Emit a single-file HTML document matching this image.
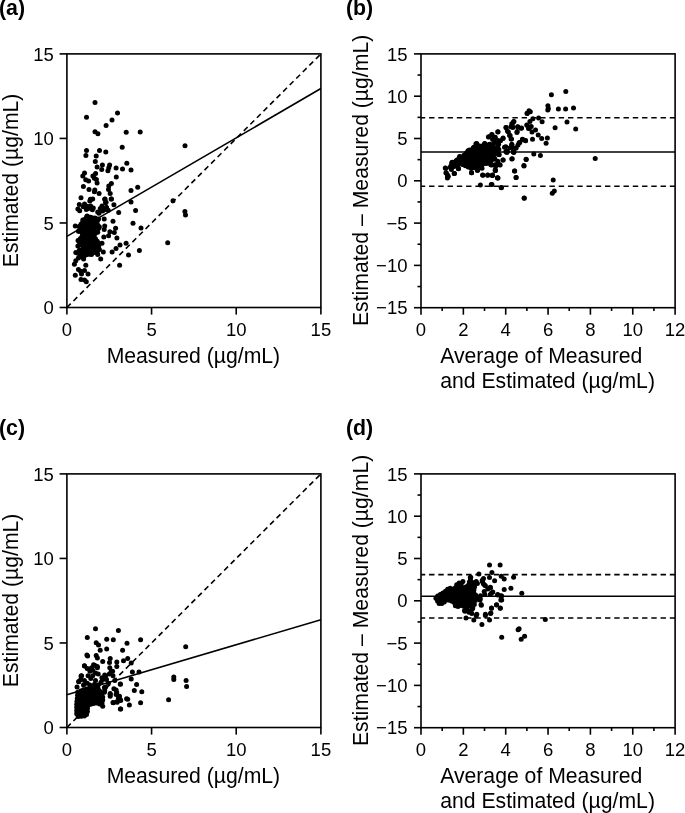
<!DOCTYPE html>
<html><head><meta charset="utf-8"><style>
html,body{margin:0;padding:0;background:#fff;}
body{width:685px;height:813px;overflow:hidden;}
svg{display:block;will-change:transform;}
text{font-family:"Liberation Sans",sans-serif;fill:#000;stroke:none;}
line,rect{stroke:#000;}
circle,polygon{stroke:none;fill:#000;}
</style></head><body>
<svg width="685" height="813" viewBox="0 0 685 813">
<g fill="#000">
<circle cx="95.0" cy="102.5" r="2.5"/>
<circle cx="86.5" cy="117.2" r="2.5"/>
<circle cx="117.5" cy="112.9" r="2.5"/>
<circle cx="112.0" cy="120.0" r="2.5"/>
<circle cx="106.1" cy="125.6" r="2.5"/>
<circle cx="95.0" cy="131.7" r="2.5"/>
<circle cx="97.9" cy="133.8" r="2.5"/>
<circle cx="126.2" cy="132.3" r="2.5"/>
<circle cx="140.2" cy="132.0" r="2.5"/>
<circle cx="122.2" cy="147.2" r="2.5"/>
<circle cx="185.0" cy="145.8" r="2.5"/>
<circle cx="173.0" cy="200.8" r="2.5"/>
<circle cx="86.5" cy="150.6" r="2.5"/>
<circle cx="85.9" cy="155.5" r="2.5"/>
<circle cx="99.5" cy="150.6" r="2.5"/>
<circle cx="105.8" cy="152.0" r="2.5"/>
<circle cx="96.2" cy="156.1" r="2.5"/>
<circle cx="95.3" cy="161.4" r="2.5"/>
<circle cx="97.1" cy="167.0" r="2.5"/>
<circle cx="102.4" cy="165.1" r="2.5"/>
<circle cx="101.7" cy="169.5" r="2.5"/>
<circle cx="109.6" cy="165.1" r="2.5"/>
<circle cx="108.8" cy="167.8" r="2.5"/>
<circle cx="107.9" cy="170.7" r="2.5"/>
<circle cx="116.1" cy="168.1" r="2.5"/>
<circle cx="122.5" cy="168.9" r="2.5"/>
<circle cx="126.8" cy="163.3" r="2.5"/>
<circle cx="131.0" cy="170.1" r="2.5"/>
<circle cx="84.5" cy="173.0" r="2.5"/>
<circle cx="82.8" cy="175.9" r="2.5"/>
<circle cx="95.6" cy="173.6" r="2.5"/>
<circle cx="92.9" cy="175.9" r="2.5"/>
<circle cx="94.4" cy="178.3" r="2.5"/>
<circle cx="96.4" cy="179.5" r="2.5"/>
<circle cx="85.7" cy="179.8" r="2.5"/>
<circle cx="88.6" cy="181.0" r="2.5"/>
<circle cx="97.1" cy="183.0" r="2.5"/>
<circle cx="116.3" cy="176.9" r="2.5"/>
<circle cx="111.4" cy="183.5" r="2.5"/>
<circle cx="108.8" cy="185.9" r="2.5"/>
<circle cx="108.5" cy="189.4" r="2.5"/>
<circle cx="83.4" cy="186.5" r="2.5"/>
<circle cx="89.0" cy="189.4" r="2.5"/>
<circle cx="94.8" cy="190.0" r="2.5"/>
<circle cx="94.4" cy="191.7" r="2.5"/>
<circle cx="99.1" cy="193.5" r="2.5"/>
<circle cx="110.2" cy="193.5" r="2.5"/>
<circle cx="81.0" cy="197.8" r="2.5"/>
<circle cx="90.4" cy="199.3" r="2.5"/>
<circle cx="92.7" cy="199.0" r="2.5"/>
<circle cx="89.8" cy="201.1" r="2.5"/>
<circle cx="105.0" cy="199.0" r="2.5"/>
<circle cx="111.4" cy="199.0" r="2.5"/>
<circle cx="106.1" cy="202.2" r="2.5"/>
<circle cx="131.0" cy="190.5" r="2.5"/>
<circle cx="137.7" cy="187.3" r="2.5"/>
<circle cx="131.0" cy="202.0" r="2.5"/>
<circle cx="90.6" cy="199.8" r="2.5"/>
<circle cx="104.7" cy="199.3" r="2.5"/>
<circle cx="111.2" cy="198.9" r="2.5"/>
<circle cx="79.3" cy="204.6" r="2.5"/>
<circle cx="84.5" cy="204.1" r="2.5"/>
<circle cx="77.9" cy="208.9" r="2.5"/>
<circle cx="79.7" cy="210.7" r="2.5"/>
<circle cx="83.2" cy="206.8" r="2.5"/>
<circle cx="87.1" cy="206.3" r="2.5"/>
<circle cx="88.5" cy="208.5" r="2.5"/>
<circle cx="90.6" cy="205.9" r="2.5"/>
<circle cx="93.3" cy="208.1" r="2.5"/>
<circle cx="92.4" cy="209.8" r="2.5"/>
<circle cx="86.3" cy="209.4" r="2.5"/>
<circle cx="102.0" cy="205.9" r="2.5"/>
<circle cx="105.5" cy="202.8" r="2.5"/>
<circle cx="106.4" cy="207.6" r="2.5"/>
<circle cx="108.2" cy="210.3" r="2.5"/>
<circle cx="100.3" cy="208.5" r="2.5"/>
<circle cx="97.7" cy="212.0" r="2.5"/>
<circle cx="99.0" cy="213.3" r="2.5"/>
<circle cx="113.9" cy="204.8" r="2.5"/>
<circle cx="118.7" cy="212.5" r="2.5"/>
<circle cx="87.1" cy="216.0" r="2.5"/>
<circle cx="90.6" cy="217.3" r="2.5"/>
<circle cx="95.0" cy="218.1" r="2.5"/>
<circle cx="98.5" cy="219.0" r="2.5"/>
<circle cx="96.8" cy="221.2" r="2.5"/>
<circle cx="104.2" cy="219.0" r="2.5"/>
<circle cx="113.0" cy="221.2" r="2.5"/>
<circle cx="82.8" cy="219.9" r="2.5"/>
<circle cx="81.0" cy="224.3" r="2.5"/>
<circle cx="75.3" cy="226.0" r="2.5"/>
<circle cx="85.4" cy="222.5" r="2.5"/>
<circle cx="88.9" cy="224.3" r="2.5"/>
<circle cx="93.3" cy="223.4" r="2.5"/>
<circle cx="91.5" cy="227.8" r="2.5"/>
<circle cx="80.1" cy="227.8" r="2.5"/>
<circle cx="78.4" cy="231.3" r="2.5"/>
<circle cx="82.8" cy="228.7" r="2.5"/>
<circle cx="88.0" cy="228.7" r="2.5"/>
<circle cx="84.5" cy="231.3" r="2.5"/>
<circle cx="89.8" cy="231.3" r="2.5"/>
<circle cx="93.3" cy="230.4" r="2.5"/>
<circle cx="96.8" cy="226.9" r="2.5"/>
<circle cx="99.4" cy="226.9" r="2.5"/>
<circle cx="97.7" cy="232.2" r="2.5"/>
<circle cx="104.7" cy="226.0" r="2.5"/>
<circle cx="104.2" cy="229.5" r="2.5"/>
<circle cx="115.6" cy="228.2" r="2.5"/>
<circle cx="114.3" cy="232.6" r="2.5"/>
<circle cx="109.9" cy="231.7" r="2.5"/>
<circle cx="108.6" cy="235.7" r="2.5"/>
<circle cx="116.9" cy="237.9" r="2.5"/>
<circle cx="103.8" cy="237.0" r="2.5"/>
<circle cx="77.9" cy="245.9" r="2.5"/>
<circle cx="81.0" cy="244.1" r="2.5"/>
<circle cx="75.8" cy="252.5" r="2.5"/>
<circle cx="79.3" cy="250.3" r="2.5"/>
<circle cx="83.6" cy="249.4" r="2.5"/>
<circle cx="87.1" cy="247.6" r="2.5"/>
<circle cx="89.8" cy="250.3" r="2.5"/>
<circle cx="92.4" cy="249.4" r="2.5"/>
<circle cx="88.0" cy="252.9" r="2.5"/>
<circle cx="91.5" cy="254.6" r="2.5"/>
<circle cx="84.5" cy="255.5" r="2.5"/>
<circle cx="80.1" cy="255.5" r="2.5"/>
<circle cx="78.4" cy="258.1" r="2.5"/>
<circle cx="83.6" cy="259.0" r="2.5"/>
<circle cx="75.8" cy="260.8" r="2.5"/>
<circle cx="96.8" cy="251.1" r="2.5"/>
<circle cx="97.7" cy="254.6" r="2.5"/>
<circle cx="95.9" cy="247.6" r="2.5"/>
<circle cx="99.4" cy="249.4" r="2.5"/>
<circle cx="102.0" cy="243.3" r="2.5"/>
<circle cx="103.3" cy="252.0" r="2.5"/>
<circle cx="100.7" cy="259.0" r="2.5"/>
<circle cx="112.1" cy="252.0" r="2.5"/>
<circle cx="116.0" cy="248.5" r="2.5"/>
<circle cx="120.0" cy="245.0" r="2.5"/>
<circle cx="126.1" cy="243.3" r="2.5"/>
<circle cx="119.6" cy="265.2" r="2.5"/>
<circle cx="74.4" cy="264.3" r="2.5"/>
<circle cx="85.8" cy="265.2" r="2.5"/>
<circle cx="78.4" cy="269.5" r="2.5"/>
<circle cx="80.6" cy="271.3" r="2.5"/>
<circle cx="84.5" cy="270.4" r="2.5"/>
<circle cx="81.5" cy="273.9" r="2.5"/>
<circle cx="75.3" cy="275.2" r="2.5"/>
<circle cx="88.0" cy="273.9" r="2.5"/>
<circle cx="81.0" cy="279.6" r="2.5"/>
<circle cx="84.5" cy="280.0" r="2.5"/>
<circle cx="86.3" cy="281.8" r="2.5"/>
<circle cx="135.6" cy="210.5" r="2.5"/>
<circle cx="133.0" cy="223.2" r="2.5"/>
<circle cx="141.0" cy="228.0" r="2.5"/>
<circle cx="167.7" cy="242.7" r="2.5"/>
<circle cx="139.4" cy="250.5" r="2.5"/>
<circle cx="128.5" cy="255.1" r="2.5"/>
<circle cx="184.9" cy="211.5" r="2.5"/>
<circle cx="185.5" cy="215.0" r="2.5"/>
<circle cx="104.3" cy="209.7" r="2.5"/>
<circle cx="106.5" cy="207.5" r="2.5"/>
<circle cx="102.5" cy="211.0" r="2.5"/>
<polygon points="78.0,240.4 79.2,241.9 79.4,242.1 79.5,242.3 79.6,242.5 79.7,242.7 79.7,243.0 79.8,243.2 79.8,243.4 79.8,243.7 79.8,243.9 79.6,244.6 81.5,245.2 81.8,245.3 82.0,245.4 82.2,245.5 82.4,245.7 82.6,245.8 82.7,246.0 82.9,246.2 83.0,246.4 83.1,246.7 83.2,246.9 83.3,247.1 83.3,247.4 83.3,247.6 83.3,247.9 83.2,248.1 83.2,248.4 83.1,248.6 83.0,248.8 82.9,249.0 82.7,249.2 82.5,249.4 82.4,249.6 79.5,251.9 79.2,252.1 77.5,253.1 79.6,254.2 79.9,254.3 80.1,254.4 80.2,254.6 80.4,254.8 80.6,255.0 80.7,255.2 80.8,255.4 80.9,255.6 80.9,255.9 81.0,256.1 81.0,256.4 81.0,256.6 81.0,256.8 81.1,256.8 81.3,256.8 81.6,256.8 81.8,256.8 82.0,256.9 82.3,257.0 82.9,257.2 83.2,256.6 83.3,256.4 83.4,256.2 83.5,255.9 83.7,255.8 83.9,255.6 84.1,255.4 84.3,255.3 84.6,255.2 84.8,255.1 85.0,255.0 90.1,254.1 91.3,252.9 91.5,252.7 91.7,252.6 91.9,252.4 92.1,252.3 92.3,252.2 92.6,252.2 92.8,252.1 93.1,252.1 93.3,252.1 93.6,252.1 93.8,252.2 94.1,252.3 95.8,253.0 97.1,252.2 98.2,250.4 98.2,247.6 98.2,247.3 98.3,247.1 98.3,246.8 98.4,246.6 98.5,246.4 99.9,244.0 98.7,243.1 98.5,242.9 98.3,242.8 98.2,242.6 94.5,237.5 94.3,237.3 94.2,237.0 94.1,236.8 94.1,236.5 94.0,236.3 94.0,236.0 94.0,235.8 94.0,235.5 94.1,235.3 94.2,235.0 94.3,234.8 94.4,234.6 95.9,232.4 96.0,232.3 98.0,229.6 98.9,227.2 97.2,223.9 97.1,223.6 97.0,223.4 96.9,223.1 96.9,222.9 96.9,222.6 96.9,222.4 97.0,222.1 97.0,221.9 97.9,219.3 97.7,219.1 88.8,217.1 86.5,217.1 83.2,221.0 81.8,224.3 81.7,224.6 81.6,224.8 81.5,224.9 81.3,225.1 81.1,225.3 81.0,225.4 80.8,225.6 78.8,226.7 79.6,227.3 79.8,227.5 80.0,227.7 80.1,227.9 80.3,228.1 80.4,228.3 80.5,228.5 80.5,228.8 80.6,229.0 80.6,229.2 80.6,229.5 80.6,229.7 80.5,230.0 80.4,230.2 80.3,230.4 79.9,231.3 81.6,232.4 81.8,232.5 82.0,232.6 82.2,232.8 82.3,233.0 82.4,233.2 82.6,233.4 82.7,233.7 82.7,233.9 82.8,234.1 82.8,234.4 82.8,234.6 82.8,234.9 82.7,235.1 82.6,235.4 82.6,235.6 82.4,235.8 82.3,236.0 80.1,238.9 79.9,239.1 79.8,239.2 79.6,239.4 79.4,239.5 78.0,240.4"/>
<circle cx="78.0" cy="240.4" r="2.5"/>
<circle cx="79.7" cy="242.9" r="2.5"/>
<circle cx="80.9" cy="245.0" r="2.5"/>
<circle cx="83.2" cy="246.8" r="2.5"/>
<circle cx="82.3" cy="249.6" r="2.5"/>
<circle cx="80.0" cy="251.5" r="2.5"/>
<circle cx="77.5" cy="253.1" r="2.5"/>
<circle cx="80.2" cy="254.6" r="2.5"/>
<circle cx="81.5" cy="256.8" r="2.5"/>
<circle cx="83.7" cy="255.8" r="2.5"/>
<circle cx="86.5" cy="254.8" r="2.5"/>
<circle cx="89.5" cy="254.2" r="2.5"/>
<circle cx="91.9" cy="252.4" r="2.5"/>
<circle cx="94.8" cy="252.6" r="2.5"/>
<circle cx="97.3" cy="251.8" r="2.5"/>
<circle cx="98.2" cy="249.0" r="2.5"/>
<circle cx="98.7" cy="246.1" r="2.5"/>
<circle cx="99.3" cy="243.6" r="2.5"/>
<circle cx="97.3" cy="241.3" r="2.5"/>
<circle cx="95.5" cy="238.8" r="2.5"/>
<circle cx="94.0" cy="236.2" r="2.5"/>
<circle cx="95.2" cy="233.5" r="2.5"/>
<circle cx="97.0" cy="231.0" r="2.5"/>
<circle cx="98.5" cy="228.4" r="2.5"/>
<circle cx="98.1" cy="225.6" r="2.5"/>
<circle cx="96.9" cy="222.8" r="2.5"/>
<circle cx="97.7" cy="219.9" r="2.5"/>
<circle cx="95.6" cy="218.6" r="2.5"/>
<circle cx="92.6" cy="218.0" r="2.5"/>
<circle cx="89.6" cy="217.3" r="2.5"/>
<circle cx="86.6" cy="217.1" r="2.5"/>
<circle cx="84.6" cy="219.4" r="2.5"/>
<circle cx="82.8" cy="221.9" r="2.5"/>
<circle cx="81.6" cy="224.7" r="2.5"/>
<circle cx="79.2" cy="226.5" r="2.5"/>
<circle cx="80.5" cy="228.6" r="2.5"/>
<circle cx="80.0" cy="231.4" r="2.5"/>
<circle cx="82.5" cy="233.2" r="2.5"/>
<circle cx="82.2" cy="236.1" r="2.5"/>
<circle cx="80.4" cy="238.5" r="2.5"/>
<line x1="66.90" y1="307.50" x2="320.90" y2="53.90" stroke-width="1.6" stroke-dasharray="5.4 3.86" stroke-dashoffset="0"/>
<line x1="66.90" y1="236.32" x2="320.90" y2="88.56" stroke-width="1.6"/>
<rect x="66.9" y="53.9" width="254.00" height="253.60" fill="none" stroke-width="1.6"/>
<line x1="59.60" y1="307.50" x2="66.90" y2="307.50" stroke-width="1.6"/>
<line x1="66.90" y1="307.50" x2="66.90" y2="314.60" stroke-width="1.6"/>
<text x="53.80" y="314.10" text-anchor="end" font-size="18.5">0</text>
<text x="66.90" y="335.60" text-anchor="middle" font-size="18.5">0</text>
<line x1="59.60" y1="222.97" x2="66.90" y2="222.97" stroke-width="1.6"/>
<line x1="151.57" y1="307.50" x2="151.57" y2="314.60" stroke-width="1.6"/>
<text x="53.80" y="229.57" text-anchor="end" font-size="18.5">5</text>
<text x="151.57" y="335.60" text-anchor="middle" font-size="18.5">5</text>
<line x1="59.60" y1="138.43" x2="66.90" y2="138.43" stroke-width="1.6"/>
<line x1="236.23" y1="307.50" x2="236.23" y2="314.60" stroke-width="1.6"/>
<text x="53.80" y="145.03" text-anchor="end" font-size="18.5">10</text>
<text x="236.23" y="335.60" text-anchor="middle" font-size="18.5">10</text>
<line x1="59.60" y1="53.90" x2="66.90" y2="53.90" stroke-width="1.6"/>
<line x1="320.90" y1="307.50" x2="320.90" y2="314.60" stroke-width="1.6"/>
<text x="53.80" y="60.50" text-anchor="end" font-size="18.5">15</text>
<text x="320.90" y="335.60" text-anchor="middle" font-size="18.5">15</text>
<text x="193.40" y="362.90" text-anchor="middle" font-size="21.2">Measured (µg/mL)</text>
<text x="18.40" y="180.40" text-anchor="middle" font-size="21.2" transform="rotate(-90 18.40 180.40)">Estimated (µg/mL)</text>
<circle cx="527.1" cy="113.3" r="2.5"/>
<circle cx="529.0" cy="110.7" r="2.5"/>
<circle cx="513.9" cy="121.6" r="2.5"/>
<circle cx="511.8" cy="123.8" r="2.5"/>
<circle cx="505.9" cy="127.4" r="2.5"/>
<circle cx="511.0" cy="126.7" r="2.5"/>
<circle cx="517.6" cy="126.7" r="2.5"/>
<circle cx="521.2" cy="128.2" r="2.5"/>
<circle cx="516.9" cy="132.6" r="2.5"/>
<circle cx="527.1" cy="125.3" r="2.5"/>
<circle cx="529.3" cy="128.2" r="2.5"/>
<circle cx="497.9" cy="131.8" r="2.5"/>
<circle cx="507.4" cy="131.1" r="2.5"/>
<circle cx="509.6" cy="135.5" r="2.5"/>
<circle cx="511.0" cy="139.1" r="2.5"/>
<circle cx="488.4" cy="136.9" r="2.5"/>
<circle cx="492.0" cy="134.7" r="2.5"/>
<circle cx="494.2" cy="137.7" r="2.5"/>
<circle cx="497.9" cy="140.6" r="2.5"/>
<circle cx="503.0" cy="138.4" r="2.5"/>
<circle cx="504.5" cy="147.2" r="2.5"/>
<circle cx="511.8" cy="144.2" r="2.5"/>
<circle cx="511.8" cy="147.2" r="2.5"/>
<circle cx="516.1" cy="147.9" r="2.5"/>
<circle cx="519.1" cy="142.8" r="2.5"/>
<circle cx="522.7" cy="139.6" r="2.5"/>
<circle cx="525.6" cy="140.6" r="2.5"/>
<circle cx="476.7" cy="143.5" r="2.5"/>
<circle cx="484.7" cy="143.5" r="2.5"/>
<circle cx="489.9" cy="144.2" r="2.5"/>
<circle cx="494.2" cy="142.8" r="2.5"/>
<circle cx="498.6" cy="144.2" r="2.5"/>
<circle cx="473.8" cy="147.2" r="2.5"/>
<circle cx="481.1" cy="146.4" r="2.5"/>
<circle cx="488.4" cy="147.9" r="2.5"/>
<circle cx="495.7" cy="147.9" r="2.5"/>
<circle cx="469.4" cy="150.1" r="2.5"/>
<circle cx="505.9" cy="151.5" r="2.5"/>
<circle cx="513.2" cy="151.5" r="2.5"/>
<circle cx="467.2" cy="153.0" r="2.5"/>
<circle cx="473.8" cy="152.3" r="2.5"/>
<circle cx="445.3" cy="168.1" r="2.5"/>
<circle cx="446.1" cy="172.7" r="2.5"/>
<circle cx="448.2" cy="176.4" r="2.5"/>
<circle cx="447.5" cy="174.9" r="2.5"/>
<circle cx="450.4" cy="167.6" r="2.5"/>
<circle cx="451.9" cy="162.5" r="2.5"/>
<circle cx="454.1" cy="173.5" r="2.5"/>
<circle cx="457.0" cy="161.1" r="2.5"/>
<circle cx="458.5" cy="168.4" r="2.5"/>
<circle cx="459.9" cy="156.7" r="2.5"/>
<circle cx="463.6" cy="159.6" r="2.5"/>
<circle cx="468.0" cy="151.6" r="2.5"/>
<circle cx="471.6" cy="172.7" r="2.5"/>
<circle cx="477.4" cy="170.5" r="2.5"/>
<circle cx="480.4" cy="185.1" r="2.5"/>
<circle cx="482.6" cy="174.9" r="2.5"/>
<circle cx="487.7" cy="174.9" r="2.5"/>
<circle cx="492.5" cy="174.9" r="2.5"/>
<circle cx="491.3" cy="184.4" r="2.5"/>
<circle cx="497.4" cy="177.8" r="2.5"/>
<circle cx="501.2" cy="187.6" r="2.5"/>
<circle cx="495.4" cy="170.5" r="2.5"/>
<circle cx="499.8" cy="164.7" r="2.5"/>
<circle cx="503.0" cy="160.0" r="2.5"/>
<circle cx="498.6" cy="154.5" r="2.5"/>
<circle cx="494.2" cy="158.9" r="2.5"/>
<circle cx="506.6" cy="152.3" r="2.5"/>
<circle cx="511.8" cy="158.9" r="2.5"/>
<circle cx="513.9" cy="152.3" r="2.5"/>
<circle cx="514.7" cy="171.0" r="2.5"/>
<circle cx="516.1" cy="177.4" r="2.5"/>
<circle cx="523.9" cy="165.4" r="2.5"/>
<circle cx="526.1" cy="159.3" r="2.5"/>
<circle cx="524.2" cy="198.3" r="2.5"/>
<circle cx="486.9" cy="163.2" r="2.5"/>
<circle cx="491.3" cy="164.7" r="2.5"/>
<circle cx="495.0" cy="164.7" r="2.5"/>
<circle cx="445.7" cy="168.3" r="2.5"/>
<circle cx="446.1" cy="173.1" r="2.5"/>
<circle cx="447.9" cy="176.2" r="2.5"/>
<circle cx="447.4" cy="177.9" r="2.5"/>
<circle cx="450.5" cy="166.5" r="2.5"/>
<circle cx="452.3" cy="162.2" r="2.5"/>
<circle cx="451.4" cy="169.6" r="2.5"/>
<circle cx="454.5" cy="173.5" r="2.5"/>
<circle cx="455.8" cy="161.3" r="2.5"/>
<circle cx="458.4" cy="168.7" r="2.5"/>
<circle cx="459.7" cy="156.5" r="2.5"/>
<circle cx="461.9" cy="159.5" r="2.5"/>
<circle cx="463.2" cy="163.9" r="2.5"/>
<circle cx="460.1" cy="163.0" r="2.5"/>
<circle cx="466.3" cy="155.1" r="2.5"/>
<circle cx="468.0" cy="150.8" r="2.5"/>
<circle cx="465.4" cy="160.4" r="2.5"/>
<circle cx="468.9" cy="158.6" r="2.5"/>
<circle cx="470.7" cy="154.3" r="2.5"/>
<circle cx="471.5" cy="161.3" r="2.5"/>
<circle cx="469.8" cy="165.7" r="2.5"/>
<circle cx="473.3" cy="148.1" r="2.5"/>
<circle cx="475.9" cy="143.8" r="2.5"/>
<circle cx="474.2" cy="152.5" r="2.5"/>
<circle cx="476.8" cy="156.9" r="2.5"/>
<circle cx="475.0" cy="163.0" r="2.5"/>
<circle cx="477.7" cy="170.0" r="2.5"/>
<circle cx="471.5" cy="172.7" r="2.5"/>
<circle cx="478.5" cy="150.8" r="2.5"/>
<circle cx="480.3" cy="146.4" r="2.5"/>
<circle cx="481.2" cy="154.3" r="2.5"/>
<circle cx="479.4" cy="161.3" r="2.5"/>
<circle cx="482.0" cy="164.8" r="2.5"/>
<circle cx="483.8" cy="159.5" r="2.5"/>
<circle cx="484.7" cy="143.8" r="2.5"/>
<circle cx="485.5" cy="149.9" r="2.5"/>
<circle cx="487.3" cy="153.4" r="2.5"/>
<circle cx="489.0" cy="144.6" r="2.5"/>
<circle cx="490.8" cy="151.6" r="2.5"/>
<circle cx="492.6" cy="156.0" r="2.5"/>
<circle cx="494.3" cy="158.6" r="2.5"/>
<circle cx="487.3" cy="163.0" r="2.5"/>
<circle cx="490.8" cy="164.8" r="2.5"/>
<circle cx="495.2" cy="170.0" r="2.5"/>
<circle cx="489.0" cy="136.8" r="2.5"/>
<circle cx="492.6" cy="139.4" r="2.5"/>
<circle cx="496.1" cy="142.0" r="2.5"/>
<circle cx="497.8" cy="147.3" r="2.5"/>
<circle cx="498.7" cy="154.3" r="2.5"/>
<circle cx="497.8" cy="161.3" r="2.5"/>
<circle cx="496.9" cy="164.8" r="2.5"/>
<circle cx="482.9" cy="175.3" r="2.5"/>
<circle cx="487.7" cy="175.3" r="2.5"/>
<circle cx="492.6" cy="175.3" r="2.5"/>
<circle cx="497.8" cy="177.9" r="2.5"/>
<circle cx="482.0" cy="168.3" r="2.5"/>
<circle cx="527.2" cy="113.5" r="2.5"/>
<circle cx="530.3" cy="111.8" r="2.5"/>
<circle cx="547.8" cy="110.0" r="2.5"/>
<circle cx="538.6" cy="117.9" r="2.5"/>
<circle cx="542.1" cy="121.8" r="2.5"/>
<circle cx="532.9" cy="118.8" r="2.5"/>
<circle cx="529.9" cy="121.4" r="2.5"/>
<circle cx="526.8" cy="124.9" r="2.5"/>
<circle cx="528.5" cy="128.4" r="2.5"/>
<circle cx="531.2" cy="126.6" r="2.5"/>
<circle cx="535.5" cy="130.1" r="2.5"/>
<circle cx="532.0" cy="131.9" r="2.5"/>
<circle cx="538.2" cy="135.0" r="2.5"/>
<circle cx="541.7" cy="138.5" r="2.5"/>
<circle cx="547.4" cy="138.0" r="2.5"/>
<circle cx="546.1" cy="143.3" r="2.5"/>
<circle cx="532.5" cy="139.3" r="2.5"/>
<circle cx="513.6" cy="121.8" r="2.5"/>
<circle cx="512.3" cy="124.9" r="2.5"/>
<circle cx="512.8" cy="127.5" r="2.5"/>
<circle cx="518.0" cy="127.1" r="2.5"/>
<circle cx="521.5" cy="128.0" r="2.5"/>
<circle cx="517.2" cy="131.5" r="2.5"/>
<circle cx="506.2" cy="127.5" r="2.5"/>
<circle cx="508.4" cy="131.9" r="2.5"/>
<circle cx="510.1" cy="135.4" r="2.5"/>
<circle cx="511.5" cy="138.9" r="2.5"/>
<circle cx="497.9" cy="131.9" r="2.5"/>
<circle cx="491.8" cy="134.5" r="2.5"/>
<circle cx="495.3" cy="137.2" r="2.5"/>
<circle cx="503.1" cy="138.0" r="2.5"/>
<circle cx="500.5" cy="140.7" r="2.5"/>
<circle cx="522.4" cy="139.3" r="2.5"/>
<circle cx="525.5" cy="140.7" r="2.5"/>
<circle cx="519.8" cy="142.4" r="2.5"/>
<circle cx="518.0" cy="145.0" r="2.5"/>
<circle cx="515.8" cy="148.1" r="2.5"/>
<circle cx="511.9" cy="145.0" r="2.5"/>
<circle cx="510.1" cy="147.7" r="2.5"/>
<circle cx="505.8" cy="146.8" r="2.5"/>
<circle cx="513.6" cy="152.0" r="2.5"/>
<circle cx="507.5" cy="151.2" r="2.5"/>
<circle cx="490.9" cy="145.0" r="2.5"/>
<circle cx="493.5" cy="146.8" r="2.5"/>
<circle cx="497.9" cy="143.3" r="2.5"/>
<circle cx="498.8" cy="149.4" r="2.5"/>
<circle cx="495.3" cy="151.2" r="2.5"/>
<circle cx="551.4" cy="94.7" r="2.5"/>
<circle cx="565.8" cy="91.4" r="2.5"/>
<circle cx="547.9" cy="105.8" r="2.5"/>
<circle cx="548.3" cy="108.5" r="2.5"/>
<circle cx="558.4" cy="108.9" r="2.5"/>
<circle cx="565.6" cy="108.9" r="2.5"/>
<circle cx="573.5" cy="108.0" r="2.5"/>
<circle cx="567.0" cy="122.0" r="2.5"/>
<circle cx="555.1" cy="127.7" r="2.5"/>
<circle cx="575.7" cy="129.0" r="2.5"/>
<circle cx="540.4" cy="155.5" r="2.5"/>
<circle cx="595.2" cy="158.4" r="2.5"/>
<circle cx="507.1" cy="152.2" r="2.5"/>
<circle cx="513.6" cy="152.2" r="2.5"/>
<circle cx="499.2" cy="154.8" r="2.5"/>
<circle cx="533.8" cy="153.9" r="2.5"/>
<circle cx="494.8" cy="158.8" r="2.5"/>
<circle cx="503.1" cy="160.1" r="2.5"/>
<circle cx="512.2" cy="158.8" r="2.5"/>
<circle cx="526.2" cy="159.5" r="2.5"/>
<circle cx="524.0" cy="165.9" r="2.5"/>
<circle cx="500.1" cy="165.1" r="2.5"/>
<circle cx="491.8" cy="164.9" r="2.5"/>
<circle cx="495.7" cy="166.6" r="2.5"/>
<circle cx="495.3" cy="170.6" r="2.5"/>
<circle cx="514.5" cy="171.0" r="2.5"/>
<circle cx="516.1" cy="177.6" r="2.5"/>
<circle cx="492.2" cy="175.4" r="2.5"/>
<circle cx="497.9" cy="178.0" r="2.5"/>
<circle cx="491.9" cy="184.6" r="2.5"/>
<circle cx="501.4" cy="187.8" r="2.5"/>
<circle cx="524.2" cy="198.0" r="2.5"/>
<circle cx="553.2" cy="179.9" r="2.5"/>
<circle cx="554.3" cy="191.1" r="2.5"/>
<circle cx="552.3" cy="193.2" r="2.5"/>
<polygon points="451.7,163.8 450.9,166.0 451.9,166.7 453.6,167.2 454.9,165.8 455.1,165.7 455.3,165.5 455.5,165.4 455.7,165.3 455.9,165.2 459.4,164.0 459.6,164.0 459.8,163.9 460.1,163.9 460.3,163.9 460.6,163.9 460.8,164.0 461.0,164.0 464.5,165.2 464.8,165.4 469.4,167.6 471.9,168.5 474.6,167.5 474.9,167.5 475.1,167.4 475.4,167.4 477.9,167.4 479.4,165.8 479.6,165.7 479.8,165.5 480.0,165.4 482.3,164.2 482.6,164.1 482.8,164.0 490.4,161.9 492.7,159.5 492.7,157.0 492.7,156.8 492.7,156.5 492.8,156.3 492.9,156.0 493.0,155.8 493.1,155.6 493.3,155.4 493.4,155.2 496.5,152.1 497.2,150.2 496.8,149.6 495.6,148.9 492.5,148.4 492.3,148.3 492.0,148.2 491.8,148.2 491.6,148.1 491.5,147.9 489.2,146.3 487.4,145.4 484.9,145.0 482.0,146.0 481.8,146.0 481.5,146.1 481.3,146.1 481.0,146.1 480.8,146.1 477.5,145.5 476.4,145.5 474.8,147.2 474.7,147.3 470.1,151.4 469.9,151.5 469.6,151.7 469.4,151.8 469.2,151.9 468.9,151.9 467.2,152.3 461.9,157.1 461.7,157.3 461.5,157.4 461.3,157.6 461.0,157.7 460.8,157.7 459.0,158.2 453.7,163.0 453.5,163.1 453.3,163.2 453.1,163.4 452.9,163.4 452.6,163.5 451.7,163.8"/>
<circle cx="451.7" cy="163.8" r="2.5"/>
<circle cx="451.5" cy="166.4" r="2.5"/>
<circle cx="454.2" cy="166.6" r="2.5"/>
<circle cx="456.7" cy="165.0" r="2.5"/>
<circle cx="459.6" cy="164.0" r="2.5"/>
<circle cx="462.6" cy="164.6" r="2.5"/>
<circle cx="465.4" cy="165.7" r="2.5"/>
<circle cx="468.2" cy="167.0" r="2.5"/>
<circle cx="471.0" cy="168.2" r="2.5"/>
<circle cx="473.9" cy="167.8" r="2.5"/>
<circle cx="476.9" cy="167.4" r="2.5"/>
<circle cx="479.4" cy="165.9" r="2.5"/>
<circle cx="482.0" cy="164.3" r="2.5"/>
<circle cx="484.9" cy="163.4" r="2.5"/>
<circle cx="487.9" cy="162.6" r="2.5"/>
<circle cx="490.7" cy="161.5" r="2.5"/>
<circle cx="492.7" cy="159.3" r="2.5"/>
<circle cx="492.8" cy="156.2" r="2.5"/>
<circle cx="494.8" cy="153.9" r="2.5"/>
<circle cx="496.7" cy="151.6" r="2.5"/>
<circle cx="496.0" cy="149.1" r="2.5"/>
<circle cx="493.1" cy="148.5" r="2.5"/>
<circle cx="490.4" cy="147.2" r="2.5"/>
<circle cx="487.7" cy="145.6" r="2.5"/>
<circle cx="484.8" cy="145.0" r="2.5"/>
<circle cx="481.8" cy="146.0" r="2.5"/>
<circle cx="478.8" cy="145.7" r="2.5"/>
<circle cx="476.0" cy="146.0" r="2.5"/>
<circle cx="473.7" cy="148.1" r="2.5"/>
<circle cx="471.4" cy="150.1" r="2.5"/>
<circle cx="469.0" cy="151.9" r="2.5"/>
<circle cx="466.3" cy="153.1" r="2.5"/>
<circle cx="464.0" cy="155.2" r="2.5"/>
<circle cx="461.7" cy="157.3" r="2.5"/>
<circle cx="458.9" cy="158.3" r="2.5"/>
<circle cx="456.6" cy="160.3" r="2.5"/>
<circle cx="454.3" cy="162.4" r="2.5"/>
<line x1="421.00" y1="152.04" x2="675.10" y2="152.04" stroke-width="1.6"/>
<line x1="421.00" y1="117.69" x2="675.10" y2="117.69" stroke-width="1.6" stroke-dasharray="5.4 3.86" stroke-dashoffset="1.2"/>
<line x1="421.00" y1="186.30" x2="675.10" y2="186.30" stroke-width="1.6" stroke-dasharray="5.4 3.86" stroke-dashoffset="1.2"/>
<rect x="421.0" y="53.9" width="254.10" height="253.80" fill="none" stroke-width="1.6"/>
<line x1="414.00" y1="307.70" x2="421.00" y2="307.70" stroke-width="1.6"/>
<text x="407.50" y="314.30" text-anchor="end" font-size="18.5">&#8722;15</text>
<line x1="414.00" y1="265.40" x2="421.00" y2="265.40" stroke-width="1.6"/>
<text x="407.50" y="272.00" text-anchor="end" font-size="18.5">&#8722;10</text>
<line x1="414.00" y1="223.10" x2="421.00" y2="223.10" stroke-width="1.6"/>
<text x="407.50" y="229.70" text-anchor="end" font-size="18.5">&#8722;5</text>
<line x1="414.00" y1="180.80" x2="421.00" y2="180.80" stroke-width="1.6"/>
<text x="407.50" y="187.40" text-anchor="end" font-size="18.5">0</text>
<line x1="414.00" y1="138.50" x2="421.00" y2="138.50" stroke-width="1.6"/>
<text x="407.50" y="145.10" text-anchor="end" font-size="18.5">5</text>
<line x1="414.00" y1="96.20" x2="421.00" y2="96.20" stroke-width="1.6"/>
<text x="407.50" y="102.80" text-anchor="end" font-size="18.5">10</text>
<line x1="414.00" y1="53.90" x2="421.00" y2="53.90" stroke-width="1.6"/>
<text x="407.50" y="60.50" text-anchor="end" font-size="18.5">15</text>
<line x1="417.50" y1="286.55" x2="421.00" y2="286.55" stroke-width="1.6"/>
<line x1="417.50" y1="244.25" x2="421.00" y2="244.25" stroke-width="1.6"/>
<line x1="417.50" y1="201.95" x2="421.00" y2="201.95" stroke-width="1.6"/>
<line x1="417.50" y1="159.65" x2="421.00" y2="159.65" stroke-width="1.6"/>
<line x1="417.50" y1="117.35" x2="421.00" y2="117.35" stroke-width="1.6"/>
<line x1="417.50" y1="75.05" x2="421.00" y2="75.05" stroke-width="1.6"/>
<line x1="421.00" y1="307.70" x2="421.00" y2="314.70" stroke-width="1.6"/>
<text x="421.00" y="335.70" text-anchor="middle" font-size="18.5">0</text>
<line x1="463.35" y1="307.70" x2="463.35" y2="314.70" stroke-width="1.6"/>
<text x="463.35" y="335.70" text-anchor="middle" font-size="18.5">2</text>
<line x1="505.70" y1="307.70" x2="505.70" y2="314.70" stroke-width="1.6"/>
<text x="505.70" y="335.70" text-anchor="middle" font-size="18.5">4</text>
<line x1="548.05" y1="307.70" x2="548.05" y2="314.70" stroke-width="1.6"/>
<text x="548.05" y="335.70" text-anchor="middle" font-size="18.5">6</text>
<line x1="590.40" y1="307.70" x2="590.40" y2="314.70" stroke-width="1.6"/>
<text x="590.40" y="335.70" text-anchor="middle" font-size="18.5">8</text>
<line x1="632.75" y1="307.70" x2="632.75" y2="314.70" stroke-width="1.6"/>
<text x="632.75" y="335.70" text-anchor="middle" font-size="18.5">10</text>
<line x1="675.10" y1="307.70" x2="675.10" y2="314.70" stroke-width="1.6"/>
<text x="675.10" y="335.70" text-anchor="middle" font-size="18.5">12</text>
<line x1="442.18" y1="307.70" x2="442.18" y2="311.00" stroke-width="1.6"/>
<line x1="484.52" y1="307.70" x2="484.52" y2="311.00" stroke-width="1.6"/>
<line x1="526.88" y1="307.70" x2="526.88" y2="311.00" stroke-width="1.6"/>
<line x1="569.23" y1="307.70" x2="569.23" y2="311.00" stroke-width="1.6"/>
<line x1="611.58" y1="307.70" x2="611.58" y2="311.00" stroke-width="1.6"/>
<line x1="653.92" y1="307.70" x2="653.92" y2="311.00" stroke-width="1.6"/>
<text x="440.20" y="363.00" text-anchor="start" font-size="21.2">Average of Measured</text>
<text x="440.20" y="388.00" text-anchor="start" font-size="21.2">and Estimated (µg/mL)</text>
<text x="368.30" y="180.40" text-anchor="middle" font-size="21.2" transform="rotate(-90 368.30 180.40)">Estimated &#8211; Measured (µg/mL)</text>
<circle cx="95.5" cy="628.7" r="2.5"/>
<circle cx="118.4" cy="630.4" r="2.5"/>
<circle cx="87.3" cy="637.4" r="2.5"/>
<circle cx="106.7" cy="639.2" r="2.5"/>
<circle cx="113.3" cy="639.7" r="2.5"/>
<circle cx="140.6" cy="639.7" r="2.5"/>
<circle cx="96.2" cy="642.7" r="2.5"/>
<circle cx="98.5" cy="645.1" r="2.5"/>
<circle cx="127.0" cy="643.2" r="2.5"/>
<circle cx="106.7" cy="649.1" r="2.5"/>
<circle cx="100.2" cy="650.2" r="2.5"/>
<circle cx="122.6" cy="650.2" r="2.5"/>
<circle cx="185.7" cy="646.7" r="2.5"/>
<circle cx="86.9" cy="654.9" r="2.5"/>
<circle cx="87.6" cy="656.1" r="2.5"/>
<circle cx="96.2" cy="655.6" r="2.5"/>
<circle cx="97.4" cy="657.9" r="2.5"/>
<circle cx="110.2" cy="658.4" r="2.5"/>
<circle cx="109.5" cy="662.6" r="2.5"/>
<circle cx="102.7" cy="661.4" r="2.5"/>
<circle cx="116.8" cy="661.9" r="2.5"/>
<circle cx="123.5" cy="660.7" r="2.5"/>
<circle cx="127.7" cy="658.4" r="2.5"/>
<circle cx="131.2" cy="663.1" r="2.5"/>
<circle cx="84.5" cy="665.9" r="2.5"/>
<circle cx="91.5" cy="667.7" r="2.5"/>
<circle cx="95.0" cy="665.4" r="2.5"/>
<circle cx="97.4" cy="667.7" r="2.5"/>
<circle cx="109.8" cy="667.7" r="2.5"/>
<circle cx="116.8" cy="666.6" r="2.5"/>
<circle cx="112.6" cy="671.2" r="2.5"/>
<circle cx="132.4" cy="671.9" r="2.5"/>
<circle cx="139.0" cy="671.9" r="2.5"/>
<circle cx="173.8" cy="677.1" r="2.5"/>
<circle cx="173.8" cy="679.4" r="2.5"/>
<circle cx="186.1" cy="680.6" r="2.5"/>
<circle cx="186.6" cy="686.4" r="2.5"/>
<circle cx="81.0" cy="675.9" r="2.5"/>
<circle cx="78.7" cy="681.8" r="2.5"/>
<circle cx="105.6" cy="675.9" r="2.5"/>
<circle cx="120.3" cy="684.1" r="2.5"/>
<circle cx="131.2" cy="679.0" r="2.5"/>
<circle cx="136.6" cy="684.6" r="2.5"/>
<circle cx="134.3" cy="690.6" r="2.5"/>
<circle cx="141.8" cy="691.8" r="2.5"/>
<circle cx="116.1" cy="689.9" r="2.5"/>
<circle cx="104.4" cy="687.6" r="2.5"/>
<circle cx="104.4" cy="692.3" r="2.5"/>
<circle cx="110.2" cy="694.6" r="2.5"/>
<circle cx="116.1" cy="694.6" r="2.5"/>
<circle cx="118.4" cy="698.1" r="2.5"/>
<circle cx="127.7" cy="699.3" r="2.5"/>
<circle cx="120.7" cy="700.4" r="2.5"/>
<circle cx="113.3" cy="702.8" r="2.5"/>
<circle cx="117.2" cy="702.3" r="2.5"/>
<circle cx="140.6" cy="702.8" r="2.5"/>
<circle cx="129.4" cy="705.1" r="2.5"/>
<circle cx="120.7" cy="709.1" r="2.5"/>
<circle cx="168.6" cy="699.7" r="2.5"/>
<circle cx="102.7" cy="706.3" r="2.5"/>
<circle cx="100.9" cy="702.8" r="2.5"/>
<circle cx="126.6" cy="698.8" r="2.5"/>
<circle cx="84.4" cy="665.7" r="2.5"/>
<circle cx="87.2" cy="668.5" r="2.5"/>
<circle cx="93.6" cy="664.8" r="2.5"/>
<circle cx="97.3" cy="666.6" r="2.5"/>
<circle cx="89.9" cy="671.2" r="2.5"/>
<circle cx="92.7" cy="670.3" r="2.5"/>
<circle cx="95.5" cy="673.1" r="2.5"/>
<circle cx="98.2" cy="674.0" r="2.5"/>
<circle cx="92.7" cy="675.8" r="2.5"/>
<circle cx="90.8" cy="678.6" r="2.5"/>
<circle cx="95.5" cy="680.5" r="2.5"/>
<circle cx="88.1" cy="675.8" r="2.5"/>
<circle cx="81.6" cy="675.8" r="2.5"/>
<circle cx="78.8" cy="681.4" r="2.5"/>
<circle cx="80.7" cy="679.5" r="2.5"/>
<circle cx="84.4" cy="680.5" r="2.5"/>
<circle cx="87.2" cy="683.2" r="2.5"/>
<circle cx="83.5" cy="685.1" r="2.5"/>
<circle cx="77.0" cy="686.9" r="2.5"/>
<circle cx="89.9" cy="685.1" r="2.5"/>
<circle cx="94.5" cy="684.2" r="2.5"/>
<circle cx="98.2" cy="685.1" r="2.5"/>
<circle cx="104.7" cy="674.9" r="2.5"/>
<circle cx="101.9" cy="677.7" r="2.5"/>
<circle cx="109.3" cy="674.0" r="2.5"/>
<circle cx="111.2" cy="671.2" r="2.5"/>
<circle cx="113.0" cy="675.8" r="2.5"/>
<circle cx="106.5" cy="679.5" r="2.5"/>
<circle cx="102.8" cy="679.5" r="2.5"/>
<circle cx="101.0" cy="682.3" r="2.5"/>
<circle cx="108.4" cy="683.2" r="2.5"/>
<circle cx="105.6" cy="686.9" r="2.5"/>
<circle cx="104.7" cy="690.6" r="2.5"/>
<circle cx="114.8" cy="680.5" r="2.5"/>
<circle cx="120.4" cy="684.2" r="2.5"/>
<circle cx="113.9" cy="688.8" r="2.5"/>
<circle cx="110.2" cy="693.4" r="2.5"/>
<circle cx="110.2" cy="696.2" r="2.5"/>
<circle cx="116.7" cy="692.5" r="2.5"/>
<circle cx="119.5" cy="696.2" r="2.5"/>
<circle cx="120.4" cy="699.8" r="2.5"/>
<circle cx="113.0" cy="702.6" r="2.5"/>
<circle cx="116.7" cy="701.7" r="2.5"/>
<circle cx="120.4" cy="709.1" r="2.5"/>
<polygon points="77.7,692.2 77.7,694.3 77.7,694.6 76.7,703.6 76.7,713.9 78.3,716.6 85.7,715.9 87.4,713.0 87.4,707.2 87.4,707.0 87.4,706.7 87.5,706.5 87.6,706.3 87.7,706.0 87.8,705.8 88.0,705.6 88.1,705.5 88.3,705.3 88.5,705.1 88.7,705.0 88.9,704.9 89.1,704.8 94.7,703.0 95.0,703.0 95.2,702.9 95.5,702.9 95.7,702.9 95.9,702.9 96.2,703.0 100.9,704.3 102.3,702.5 103.0,698.2 101.5,693.6 98.6,689.1 92.6,687.7 84.3,689.3 77.7,692.2"/>
<circle cx="77.7" cy="692.2" r="2.5"/>
<circle cx="77.6" cy="695.3" r="2.5"/>
<circle cx="77.3" cy="698.4" r="2.5"/>
<circle cx="76.9" cy="701.4" r="2.5"/>
<circle cx="76.7" cy="704.5" r="2.5"/>
<circle cx="76.7" cy="707.6" r="2.5"/>
<circle cx="76.7" cy="710.7" r="2.5"/>
<circle cx="76.7" cy="713.8" r="2.5"/>
<circle cx="78.2" cy="716.4" r="2.5"/>
<circle cx="81.2" cy="716.3" r="2.5"/>
<circle cx="84.3" cy="716.0" r="2.5"/>
<circle cx="86.5" cy="714.5" r="2.5"/>
<circle cx="87.4" cy="711.6" r="2.5"/>
<circle cx="87.4" cy="708.6" r="2.5"/>
<circle cx="88.0" cy="705.6" r="2.5"/>
<circle cx="90.7" cy="704.3" r="2.5"/>
<circle cx="93.6" cy="703.4" r="2.5"/>
<circle cx="96.6" cy="703.1" r="2.5"/>
<circle cx="99.6" cy="704.0" r="2.5"/>
<circle cx="102.0" cy="703.0" r="2.5"/>
<circle cx="102.7" cy="700.0" r="2.5"/>
<circle cx="102.7" cy="697.0" r="2.5"/>
<circle cx="101.7" cy="694.1" r="2.5"/>
<circle cx="100.1" cy="691.5" r="2.5"/>
<circle cx="98.3" cy="689.0" r="2.5"/>
<circle cx="95.3" cy="688.3" r="2.5"/>
<circle cx="92.3" cy="687.7" r="2.5"/>
<circle cx="89.3" cy="688.3" r="2.5"/>
<circle cx="86.3" cy="688.9" r="2.5"/>
<circle cx="83.3" cy="689.7" r="2.5"/>
<circle cx="80.5" cy="691.0" r="2.5"/>
<line x1="66.90" y1="727.50" x2="320.90" y2="473.90" stroke-width="1.6" stroke-dasharray="5.4 3.86" stroke-dashoffset="0"/>
<line x1="66.90" y1="694.70" x2="320.90" y2="619.80" stroke-width="1.6"/>
<rect x="66.9" y="473.9" width="254.00" height="253.60" fill="none" stroke-width="1.6"/>
<line x1="59.60" y1="727.50" x2="66.90" y2="727.50" stroke-width="1.6"/>
<line x1="66.90" y1="727.50" x2="66.90" y2="734.60" stroke-width="1.6"/>
<text x="53.80" y="734.10" text-anchor="end" font-size="18.5">0</text>
<text x="66.90" y="755.60" text-anchor="middle" font-size="18.5">0</text>
<line x1="59.60" y1="642.97" x2="66.90" y2="642.97" stroke-width="1.6"/>
<line x1="151.57" y1="727.50" x2="151.57" y2="734.60" stroke-width="1.6"/>
<text x="53.80" y="649.57" text-anchor="end" font-size="18.5">5</text>
<text x="151.57" y="755.60" text-anchor="middle" font-size="18.5">5</text>
<line x1="59.60" y1="558.43" x2="66.90" y2="558.43" stroke-width="1.6"/>
<line x1="236.23" y1="727.50" x2="236.23" y2="734.60" stroke-width="1.6"/>
<text x="53.80" y="565.03" text-anchor="end" font-size="18.5">10</text>
<text x="236.23" y="755.60" text-anchor="middle" font-size="18.5">10</text>
<line x1="59.60" y1="473.90" x2="66.90" y2="473.90" stroke-width="1.6"/>
<line x1="320.90" y1="727.50" x2="320.90" y2="734.60" stroke-width="1.6"/>
<text x="53.80" y="480.50" text-anchor="end" font-size="18.5">15</text>
<text x="320.90" y="755.60" text-anchor="middle" font-size="18.5">15</text>
<text x="193.40" y="782.90" text-anchor="middle" font-size="21.2">Measured (µg/mL)</text>
<text x="18.40" y="600.40" text-anchor="middle" font-size="21.2" transform="rotate(-90 18.40 600.40)">Estimated (µg/mL)</text>
<circle cx="489.5" cy="564.9" r="2.5"/>
<circle cx="500.1" cy="564.9" r="2.5"/>
<circle cx="478.9" cy="573.9" r="2.5"/>
<circle cx="491.9" cy="572.5" r="2.5"/>
<circle cx="489.5" cy="577.6" r="2.5"/>
<circle cx="501.3" cy="576.2" r="2.5"/>
<circle cx="504.2" cy="579.0" r="2.5"/>
<circle cx="513.6" cy="577.2" r="2.5"/>
<circle cx="494.6" cy="580.7" r="2.5"/>
<circle cx="482.3" cy="580.2" r="2.5"/>
<circle cx="483.4" cy="583.7" r="2.5"/>
<circle cx="470.7" cy="577.2" r="2.5"/>
<circle cx="510.9" cy="588.2" r="2.5"/>
<circle cx="504.2" cy="589.4" r="2.5"/>
<circle cx="490.5" cy="587.8" r="2.5"/>
<circle cx="485.4" cy="585.8" r="2.5"/>
<circle cx="521.8" cy="593.3" r="2.5"/>
<circle cx="491.5" cy="592.9" r="2.5"/>
<circle cx="497.7" cy="595.0" r="2.5"/>
<circle cx="501.7" cy="596.0" r="2.5"/>
<circle cx="501.7" cy="600.1" r="2.5"/>
<circle cx="480.3" cy="599.0" r="2.5"/>
<circle cx="481.3" cy="605.2" r="2.5"/>
<circle cx="496.6" cy="604.8" r="2.5"/>
<circle cx="491.5" cy="608.2" r="2.5"/>
<circle cx="500.3" cy="608.2" r="2.5"/>
<circle cx="490.5" cy="613.4" r="2.5"/>
<circle cx="485.4" cy="615.4" r="2.5"/>
<circle cx="489.5" cy="619.9" r="2.5"/>
<circle cx="476.2" cy="615.8" r="2.5"/>
<circle cx="473.8" cy="620.1" r="2.5"/>
<circle cx="466.0" cy="618.1" r="2.5"/>
<circle cx="465.0" cy="611.3" r="2.5"/>
<circle cx="469.0" cy="612.3" r="2.5"/>
<circle cx="472.1" cy="609.3" r="2.5"/>
<circle cx="481.9" cy="624.6" r="2.5"/>
<circle cx="545.3" cy="619.5" r="2.5"/>
<circle cx="518.1" cy="629.7" r="2.5"/>
<circle cx="519.1" cy="628.7" r="2.5"/>
<circle cx="501.7" cy="637.3" r="2.5"/>
<circle cx="521.2" cy="639.3" r="2.5"/>
<circle cx="524.6" cy="636.2" r="2.5"/>
<circle cx="470.3" cy="577.6" r="2.5"/>
<circle cx="483.5" cy="578.5" r="2.5"/>
<circle cx="482.3" cy="581.6" r="2.5"/>
<circle cx="484.5" cy="585.0" r="2.5"/>
<circle cx="477.4" cy="583.5" r="2.5"/>
<circle cx="476.2" cy="581.6" r="2.5"/>
<circle cx="462.9" cy="581.6" r="2.5"/>
<circle cx="490.3" cy="587.2" r="2.5"/>
<circle cx="487.8" cy="589.0" r="2.5"/>
<circle cx="492.8" cy="592.1" r="2.5"/>
<circle cx="490.3" cy="594.5" r="2.5"/>
<circle cx="497.7" cy="594.5" r="2.5"/>
<circle cx="500.8" cy="595.8" r="2.5"/>
<circle cx="484.2" cy="591.5" r="2.5"/>
<circle cx="484.8" cy="594.5" r="2.5"/>
<circle cx="480.5" cy="595.8" r="2.5"/>
<circle cx="479.8" cy="600.1" r="2.5"/>
<circle cx="481.1" cy="604.4" r="2.5"/>
<circle cx="496.5" cy="605.0" r="2.5"/>
<circle cx="500.2" cy="608.1" r="2.5"/>
<circle cx="491.5" cy="608.1" r="2.5"/>
<circle cx="490.9" cy="613.0" r="2.5"/>
<circle cx="485.4" cy="614.2" r="2.5"/>
<circle cx="500.8" cy="600.1" r="2.5"/>
<circle cx="474.3" cy="604.4" r="2.5"/>
<circle cx="472.8" cy="608.1" r="2.5"/>
<circle cx="464.5" cy="610.5" r="2.5"/>
<circle cx="468.2" cy="610.5" r="2.5"/>
<circle cx="476.8" cy="614.2" r="2.5"/>
<circle cx="471.8" cy="613.6" r="2.5"/>
<polygon points="435.9,598.3 437.4,600.8 437.5,600.8 438.9,603.3 439.9,604.1 441.1,603.8 441.2,603.8 443.1,603.4 443.8,602.5 444.0,602.2 445.7,600.4 445.9,600.2 446.1,600.1 446.3,599.9 446.5,599.8 446.7,599.7 446.9,599.7 447.2,599.6 447.4,599.6 447.7,599.6 447.9,599.6 448.2,599.7 448.4,599.8 448.6,599.9 450.8,600.9 452.8,601.5 453.1,601.6 453.3,601.7 453.5,601.8 453.7,601.9 453.9,602.1 454.1,602.2 454.2,602.4 454.4,602.6 454.5,602.9 454.6,603.1 455.6,606.0 456.1,606.6 457.9,606.6 459.1,605.9 459.3,605.8 459.5,605.7 459.8,605.6 460.0,605.5 460.2,605.5 460.5,605.5 460.7,605.5 460.9,605.6 463.2,606.1 463.4,606.1 463.7,606.2 463.9,606.3 465.6,607.2 466.7,607.2 468.6,605.9 468.8,605.8 469.1,605.7 469.3,605.6 469.5,605.5 469.8,605.5 470.0,605.5 472.2,605.5 475.3,600.7 476.8,597.9 475.8,595.4 474.2,593.8 474.1,593.6 473.9,593.4 473.8,593.2 473.7,593.0 473.6,592.7 473.5,592.5 473.5,592.2 473.5,592.0 473.5,591.8 473.5,591.5 474.3,587.5 474.9,584.4 474.2,583.0 472.2,582.4 472.0,582.3 471.8,582.2 471.6,582.0 471.4,581.9 471.2,581.7 471.0,581.5 470.9,581.3 470.8,581.1 470.1,579.7 469.8,580.6 468.6,584.7 468.5,584.9 468.4,585.2 468.3,585.4 468.1,585.6 468.0,585.8 467.8,585.9 467.6,586.1 467.4,586.2 467.2,586.3 464.3,587.5 464.0,587.6 463.8,587.7 463.5,587.7 463.3,587.7 463.1,587.7 462.8,587.7 462.6,587.6 462.3,587.5 462.1,587.4 461.9,587.3 461.7,587.1 461.5,587.0 461.4,586.8 461.2,586.6 461.1,586.4 461.0,586.2 460.9,585.9 460.8,585.7 460.8,585.4 460.8,585.2 460.8,585.0 460.8,584.7 460.9,584.5 461.0,584.2 461.6,582.8 459.7,583.0 457.7,583.6 456.7,584.7 455.7,587.3 455.7,587.5 455.5,587.7 455.4,587.9 455.2,588.1 455.1,588.3 454.9,588.4 454.7,588.5 454.5,588.7 454.2,588.8 454.0,588.8 453.8,588.9 453.5,588.9 453.3,588.9 453.0,588.9 452.8,588.8 450.4,588.2 450.4,588.2 449.2,587.9 448.0,588.8 445.8,591.1 445.6,591.2 445.4,591.4 442.8,593.1 442.6,593.2 440.5,594.4 440.5,594.4 438.3,595.6 437.1,596.3 435.9,598.3"/>
<circle cx="435.9" cy="598.3" r="2.5"/>
<circle cx="437.5" cy="600.9" r="2.5"/>
<circle cx="439.1" cy="603.5" r="2.5"/>
<circle cx="441.8" cy="603.6" r="2.5"/>
<circle cx="444.2" cy="602.0" r="2.5"/>
<circle cx="446.3" cy="599.9" r="2.5"/>
<circle cx="449.2" cy="600.2" r="2.5"/>
<circle cx="452.0" cy="601.3" r="2.5"/>
<circle cx="454.4" cy="602.8" r="2.5"/>
<circle cx="455.4" cy="605.7" r="2.5"/>
<circle cx="458.0" cy="606.6" r="2.5"/>
<circle cx="460.7" cy="605.5" r="2.5"/>
<circle cx="463.7" cy="606.2" r="2.5"/>
<circle cx="466.4" cy="607.2" r="2.5"/>
<circle cx="469.0" cy="605.7" r="2.5"/>
<circle cx="472.0" cy="605.5" r="2.5"/>
<circle cx="473.8" cy="603.1" r="2.5"/>
<circle cx="475.4" cy="600.6" r="2.5"/>
<circle cx="476.8" cy="597.9" r="2.5"/>
<circle cx="475.6" cy="595.1" r="2.5"/>
<circle cx="473.7" cy="592.9" r="2.5"/>
<circle cx="473.9" cy="589.9" r="2.5"/>
<circle cx="474.5" cy="586.9" r="2.5"/>
<circle cx="474.7" cy="584.0" r="2.5"/>
<circle cx="472.4" cy="582.4" r="2.5"/>
<circle cx="470.4" cy="580.3" r="2.5"/>
<circle cx="469.4" cy="582.0" r="2.5"/>
<circle cx="468.5" cy="584.9" r="2.5"/>
<circle cx="466.2" cy="586.7" r="2.5"/>
<circle cx="463.4" cy="587.7" r="2.5"/>
<circle cx="461.0" cy="586.2" r="2.5"/>
<circle cx="461.4" cy="583.3" r="2.5"/>
<circle cx="459.1" cy="583.1" r="2.5"/>
<circle cx="456.7" cy="584.7" r="2.5"/>
<circle cx="455.6" cy="587.6" r="2.5"/>
<circle cx="453.1" cy="588.9" r="2.5"/>
<circle cx="450.1" cy="588.2" r="2.5"/>
<circle cx="447.6" cy="589.2" r="2.5"/>
<circle cx="445.5" cy="591.3" r="2.5"/>
<circle cx="442.9" cy="593.0" r="2.5"/>
<circle cx="440.3" cy="594.5" r="2.5"/>
<circle cx="437.7" cy="595.9" r="2.5"/>
<line x1="421.00" y1="596.23" x2="675.10" y2="596.23" stroke-width="1.6"/>
<line x1="421.00" y1="574.66" x2="675.10" y2="574.66" stroke-width="1.6" stroke-dasharray="5.4 3.86" stroke-dashoffset="1.2"/>
<line x1="421.00" y1="617.97" x2="675.10" y2="617.97" stroke-width="1.6" stroke-dasharray="5.4 3.86" stroke-dashoffset="1.2"/>
<rect x="421.0" y="473.9" width="254.10" height="253.80" fill="none" stroke-width="1.6"/>
<line x1="414.00" y1="727.70" x2="421.00" y2="727.70" stroke-width="1.6"/>
<text x="407.50" y="734.30" text-anchor="end" font-size="18.5">&#8722;15</text>
<line x1="414.00" y1="685.40" x2="421.00" y2="685.40" stroke-width="1.6"/>
<text x="407.50" y="692.00" text-anchor="end" font-size="18.5">&#8722;10</text>
<line x1="414.00" y1="643.10" x2="421.00" y2="643.10" stroke-width="1.6"/>
<text x="407.50" y="649.70" text-anchor="end" font-size="18.5">&#8722;5</text>
<line x1="414.00" y1="600.80" x2="421.00" y2="600.80" stroke-width="1.6"/>
<text x="407.50" y="607.40" text-anchor="end" font-size="18.5">0</text>
<line x1="414.00" y1="558.50" x2="421.00" y2="558.50" stroke-width="1.6"/>
<text x="407.50" y="565.10" text-anchor="end" font-size="18.5">5</text>
<line x1="414.00" y1="516.20" x2="421.00" y2="516.20" stroke-width="1.6"/>
<text x="407.50" y="522.80" text-anchor="end" font-size="18.5">10</text>
<line x1="414.00" y1="473.90" x2="421.00" y2="473.90" stroke-width="1.6"/>
<text x="407.50" y="480.50" text-anchor="end" font-size="18.5">15</text>
<line x1="417.50" y1="706.55" x2="421.00" y2="706.55" stroke-width="1.6"/>
<line x1="417.50" y1="664.25" x2="421.00" y2="664.25" stroke-width="1.6"/>
<line x1="417.50" y1="621.95" x2="421.00" y2="621.95" stroke-width="1.6"/>
<line x1="417.50" y1="579.65" x2="421.00" y2="579.65" stroke-width="1.6"/>
<line x1="417.50" y1="537.35" x2="421.00" y2="537.35" stroke-width="1.6"/>
<line x1="417.50" y1="495.05" x2="421.00" y2="495.05" stroke-width="1.6"/>
<line x1="421.00" y1="727.70" x2="421.00" y2="734.70" stroke-width="1.6"/>
<text x="421.00" y="755.70" text-anchor="middle" font-size="18.5">0</text>
<line x1="463.35" y1="727.70" x2="463.35" y2="734.70" stroke-width="1.6"/>
<text x="463.35" y="755.70" text-anchor="middle" font-size="18.5">2</text>
<line x1="505.70" y1="727.70" x2="505.70" y2="734.70" stroke-width="1.6"/>
<text x="505.70" y="755.70" text-anchor="middle" font-size="18.5">4</text>
<line x1="548.05" y1="727.70" x2="548.05" y2="734.70" stroke-width="1.6"/>
<text x="548.05" y="755.70" text-anchor="middle" font-size="18.5">6</text>
<line x1="590.40" y1="727.70" x2="590.40" y2="734.70" stroke-width="1.6"/>
<text x="590.40" y="755.70" text-anchor="middle" font-size="18.5">8</text>
<line x1="632.75" y1="727.70" x2="632.75" y2="734.70" stroke-width="1.6"/>
<text x="632.75" y="755.70" text-anchor="middle" font-size="18.5">10</text>
<line x1="675.10" y1="727.70" x2="675.10" y2="734.70" stroke-width="1.6"/>
<text x="675.10" y="755.70" text-anchor="middle" font-size="18.5">12</text>
<line x1="442.18" y1="727.70" x2="442.18" y2="731.00" stroke-width="1.6"/>
<line x1="484.52" y1="727.70" x2="484.52" y2="731.00" stroke-width="1.6"/>
<line x1="526.88" y1="727.70" x2="526.88" y2="731.00" stroke-width="1.6"/>
<line x1="569.23" y1="727.70" x2="569.23" y2="731.00" stroke-width="1.6"/>
<line x1="611.58" y1="727.70" x2="611.58" y2="731.00" stroke-width="1.6"/>
<line x1="653.92" y1="727.70" x2="653.92" y2="731.00" stroke-width="1.6"/>
<text x="440.20" y="783.00" text-anchor="start" font-size="21.2">Average of Measured</text>
<text x="440.20" y="808.00" text-anchor="start" font-size="21.2">and Estimated (µg/mL)</text>
<text x="368.30" y="600.40" text-anchor="middle" font-size="21.2" transform="rotate(-90 368.30 600.40)">Estimated &#8211; Measured (µg/mL)</text>
<text x="-1.00" y="15.10" text-anchor="start" font-size="21.3" font-weight="bold">(a)</text>
<text x="346.00" y="15.10" text-anchor="start" font-size="21.3" font-weight="bold">(b)</text>
<text x="-1.00" y="435.10" text-anchor="start" font-size="21.3" font-weight="bold">(c)</text>
<text x="346.00" y="435.10" text-anchor="start" font-size="21.3" font-weight="bold">(d)</text>
</g>
</svg>
</body></html>
